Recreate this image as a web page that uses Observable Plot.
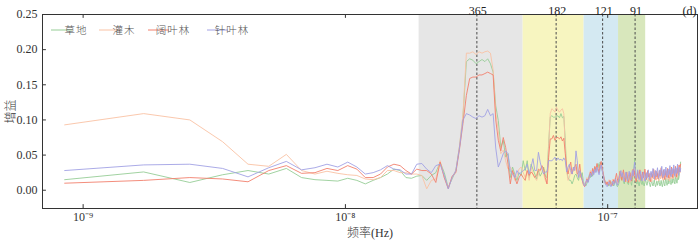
<!DOCTYPE html>
<html><head><meta charset="utf-8">
<script src="https://cdn.jsdelivr.net/npm/d3@7"></script>
<script src="https://cdn.jsdelivr.net/npm/@observablehq/plot@0.6"></script>
<style>
html,body{margin:0;padding:0;background:#fff;}
#chart{width:700px;height:242px;overflow:hidden;}
#chart svg, #chart svg text{font-family:"Liberation Serif","Noto Sans CJK SC",serif !important;}
#chart svg [aria-label="x-axis label"] text, #chart svg [aria-label="y-axis label"] text, #chart svg .cjk{font-weight:300;}
</style></head><body><div id="chart"></div>
<script>
// ---- data ----
const seriesNames = ["草地", "灌木", "阔叶林", "针叶林"];
// record: monthly series, 447 months -> harmonics k = 1..223
const recordMonths = 447;
const monthSeconds = 30.44 * 86400;

const grass = [0.015,0.026,0.011,0.022,0.028,0.023,0.031,0.018,0.015,0.014,0.013,0.017,
0.014,0.009,0.014,0.018,0.023,0.030,0.028,0.018,0.017,0.020,
0.021,0.014,0.021,0.025,0.040,0.025,0.004,0.016,0.028,
0.062,0.105,0.183,0.187,0.185,0.180,0.183,0.186,0.183,0.187,0.180,0.168,
0.120,0.099,0.061,0.071,0.047,0.052,0.018,0.033,0.023,0.014,0.025,0.021,0.042,
0.028,0.042,0.018,0.037,0.030,0.023,0.016,0.028,0.020,0.025,0.033,0.020,0.018,0.066,
0.104,0.106,0.104,0.104,0.105,0.106,0.103,0.109,0.103,0.105,
0.071,0.028,0.018,0.014,0.014,0.009,0.014,0.021,0.023,0.018,0.014,0.023,0.018,0.025,
0.012,0.008,0.006,0.010,0.015,0.022,0.018,0.025,0.020,0.028,0.033,0.026,0.030,0.038,0.032,0.040,
0.035,0.028,0.022,0.016,0.012,0.009,0.011,0.007,0.006,0.010,0.008,0.012,0.009,0.006,0.010,0.014,0.008,0.005,0.007,0.011,
0.018,0.024,0.015,0.020,0.012,0.009,0.016,0.022,0.014,0.010,0.008,0.013,0.019,0.011,0.007,0.015,0.022,0.030,0.044,0.020,
0.012,0.009,0.014,0.010,0.006,0.012,0.018,0.010,0.008,0.013,
0.009,0.006,0.011,0.016,0.010,0.007,0.012,0.018,0.012,0.008,0.005,0.010,0.014,0.009,0.006,0.011,0.015,0.008,0.005,0.009,
0.013,0.007,0.010,0.016,0.011,0.006,0.009,0.014,0.008,0.005,
0.010,0.015,0.009,0.006,0.012,0.017,0.010,0.007,0.011,0.016,0.009,0.013,0.019,0.011,0.008,0.012,0.017,0.010,0.014,0.020,
0.012,0.009,0.015,0.021,0.013,0.010,0.016,0.022,0.015,0.019,0.027,0.033,0.040];

const shrub = [0.093,0.109,0.100,0.069,0.037,0.034,0.051,0.028,0.023,0.027,0.024,0.022,
0.021,0.016,0.015,0.018,0.028,0.028,0.025,0.025,0.023,0.023,
0.021,0.002,0.014,0.016,0.042,0.018,0.004,0.018,0.028,
0.063,0.108,0.195,0.195,0.197,0.193,0.197,0.195,0.197,0.198,0.195,0.171,
0.110,0.085,0.052,0.057,0.042,0.030,0.033,0.028,0.014,0.021,0.030,0.033,0.025,
0.018,0.028,0.014,0.033,0.023,0.018,0.014,0.023,0.028,0.033,0.023,0.014,0.009,0.061,
0.109,0.116,0.114,0.111,0.118,0.114,0.111,0.114,0.116,0.109,
0.061,0.028,0.014,0.018,0.028,0.023,0.033,0.028,0.033,0.023,0.018,0.025,0.020,0.015,
0.010,0.007,0.012,0.018,0.013,0.020,0.028,0.022,0.030,0.025,0.032,0.027,0.035,0.029,0.024,0.033,
0.038,0.030,0.020,0.013,0.009,0.012,0.008,0.011,0.015,0.010,0.007,0.011,0.016,0.010,0.013,0.019,0.012,0.008,0.014,0.020,
0.016,0.022,0.027,0.018,0.014,0.020,0.025,0.017,0.012,0.018,0.024,0.016,0.011,0.017,0.022,0.028,0.019,0.024,0.032,0.018,
0.013,0.019,0.025,0.016,0.012,0.018,0.023,0.015,0.020,0.026,
0.017,0.013,0.019,0.024,0.016,0.021,0.027,0.018,0.013,0.019,0.025,0.017,0.012,0.018,0.023,0.016,0.021,0.028,0.019,0.014,
0.020,0.026,0.017,0.013,0.018,0.024,0.016,0.021,0.027,0.019,
0.014,0.020,0.025,0.017,0.022,0.029,0.020,0.015,0.021,0.027,0.018,0.013,0.019,0.024,0.016,0.022,0.029,0.021,0.016,0.022,
0.028,0.019,0.024,0.031,0.022,0.017,0.023,0.030,0.021,0.026,0.034,0.025,0.030];

const broadleaf = [0.010,0.014,0.018,0.016,0.012,0.028,0.035,0.024,0.025,0.031,0.028,0.035,
0.030,0.018,0.018,0.023,0.033,0.037,0.035,0.028,0.023,0.030,
0.028,0.028,0.023,0.011,0.040,0.018,0.002,0.020,0.025,
0.058,0.095,0.135,0.159,0.161,0.161,0.164,0.164,0.166,0.168,0.166,0.164,
0.100,0.071,0.056,0.075,0.061,0.037,0.009,0.028,0.018,0.009,0.018,0.023,0.018,
0.014,0.028,0.021,0.026,0.023,0.018,0.021,0.030,0.028,0.035,0.030,0.018,0.009,0.047,
0.073,0.073,0.078,0.071,0.075,0.075,0.073,0.076,0.070,0.074,
0.052,0.033,0.023,0.033,0.040,0.023,0.030,0.033,0.037,0.023,0.025,0.037,0.020,0.014,
0.008,0.005,0.010,0.016,0.012,0.019,0.026,0.020,0.031,0.024,0.034,0.028,0.038,0.031,0.025,0.036,
0.041,0.033,0.024,0.017,0.012,0.008,0.012,0.007,0.010,0.014,0.009,0.006,0.011,0.015,0.010,0.018,0.024,0.016,0.011,0.019,
0.027,0.020,0.014,0.021,0.029,0.018,0.012,0.019,0.026,0.016,0.011,0.018,0.025,0.019,0.013,0.022,0.030,0.021,0.028,0.018,
0.012,0.020,0.027,0.017,0.022,0.029,0.019,0.014,0.021,0.026,
0.018,0.023,0.030,0.020,0.015,0.022,0.028,0.019,0.024,0.017,0.012,0.019,0.025,0.018,0.023,0.030,0.021,0.015,0.022,0.027,
0.019,0.024,0.016,0.021,0.028,0.020,0.025,0.032,0.022,0.017,
0.023,0.029,0.020,0.015,0.021,0.027,0.019,0.024,0.031,0.022,0.017,0.023,0.029,0.021,0.026,0.033,0.023,0.018,0.024,0.030,
0.022,0.027,0.034,0.025,0.019,0.026,0.032,0.024,0.029,0.036,0.026,0.031,0.037];

const needle = [0.028,0.036,0.037,0.031,0.019,0.032,0.041,0.029,0.032,0.037,0.033,0.040,
0.033,0.023,0.025,0.029,0.035,0.030,0.029,0.023,0.023,0.037,
0.038,0.030,0.025,0.035,0.037,0.021,0.002,0.018,0.028,
0.060,0.100,0.109,0.107,0.104,0.102,0.106,0.104,0.106,0.115,0.106,0.109,
0.060,0.033,0.042,0.052,0.056,0.052,0.028,0.023,0.018,0.028,0.023,0.025,0.028,
0.030,0.037,0.023,0.033,0.045,0.028,0.028,0.054,0.040,0.030,0.023,0.026,0.026,0.042,
0.042,0.042,0.044,0.047,0.042,0.046,0.043,0.044,0.042,0.046,
0.042,0.026,0.033,0.037,0.028,0.023,0.033,0.028,0.056,0.042,0.018,0.028,0.023,0.016,
0.009,0.006,0.011,0.015,0.011,0.018,0.024,0.019,0.027,0.022,0.030,0.025,0.033,0.027,0.022,0.030,
0.036,0.029,0.021,0.014,0.010,0.007,0.005,0.009,0.012,0.008,0.005,0.009,0.013,0.008,0.011,0.016,0.010,0.007,0.012,0.017,
0.022,0.028,0.019,0.025,0.017,0.012,0.019,0.026,0.018,0.013,0.020,0.027,0.019,0.014,0.021,0.028,0.020,0.030,0.040,0.024,
0.017,0.022,0.029,0.020,0.015,0.021,0.027,0.019,0.013,0.020,
0.026,0.018,0.013,0.019,0.025,0.017,0.022,0.029,0.020,0.015,0.021,0.027,0.019,0.024,0.031,0.022,0.016,0.022,0.028,0.020,
0.025,0.032,0.023,0.017,0.023,0.029,0.021,0.026,0.034,0.024,
0.018,0.024,0.030,0.021,0.026,0.033,0.023,0.018,0.024,0.030,0.022,0.027,0.035,0.025,0.019,0.025,0.031,0.023,0.028,0.036,
0.026,0.020,0.026,0.032,0.024,0.029,0.037,0.027,0.021,0.027,0.033,0.026,0.031];

const periodsDays = [365, 182, 121, 91];
const bandEdges = [1.91e-8, 4.76e-8, 8.13e-8, 1.10e-7, 1.396e-7];
const xTickValues = [1e-9, 1e-8, 1e-7];
const yTickValues = [0, 0.05, 0.10, 0.15, 0.20, 0.25];

// ---- styles ----
const seriesColors = ["#96cd96", "#f9c2a4", "#f2806d", "#a2a2e4"];
const bandColors = ["#e6e6e6", "#f7f5c0", "#d4e9f2", "#d8e7bc"];
const xDomain = [7.0e-10, 2.2e-7];
const yDomain = [-0.026, 0.25];

const allSeries = [grass, shrub, broadleaf, needle];
const rows = allSeries.map((vals, s) => vals.map((g, i) => ({
  freq: (i + 1) / (recordMonths * monthSeconds), gain: g, type: seriesNames[s]
})));

const supMap = {"-": "⁻", "0": "⁰", "1": "¹", "2": "²", "3": "³", "4": "⁴", "5": "⁵", "6": "⁶", "7": "⁷", "8": "⁸", "9": "⁹"};
const sup = d => "10" + String(Math.round(Math.log10(d))).split("").map(c => supMap[c]).join("");

const font = "'Liberation Serif', 'Noto Sans CJK SC', serif";
const tickLenY = 0.0055;

const marks = [];
bandColors.forEach((c, i) => {
  marks.push(Plot.rect([i], {x1: j => bandEdges[j], x2: j => bandEdges[j + 1], y1: yDomain[0], y2: yDomain[1], fill: c}));
});
marks.push(Plot.ruleX(periodsDays, {x: d => 1 / (d * 86400), stroke: "#4a4a4a", strokeWidth: 1, strokeDasharray: "2.5,2"}));
rows.forEach((r, s) => {
  marks.push(Plot.line(r, {x: "freq", y: "gain", stroke: seriesColors[s], strokeWidth: 0.9}));
});
marks.push(
  Plot.ruleX(xTickValues, {x: d => d, y1: yDomain[0], y2: yDomain[0] + tickLenY, stroke: "#333"}),
  Plot.ruleX(xTickValues, {x: d => d, y1: yDomain[1] - tickLenY, y2: yDomain[1], stroke: "#333"}),
  Plot.ruleY(yTickValues, {y: d => d, x1: xDomain[0], x2: xDomain[0] * 1.035, stroke: "#333"}),
  Plot.frame({stroke: "#333", strokeWidth: 1}),
  Plot.axisX({ticks: xTickValues, tickFormat: sup, tickSize: 0, tickPadding: 4, fontSize: 12,
    label: "频率(Hz)", labelAnchor: "center", labelOffset: 28, labelArrow: "none"}),
  Plot.axisY({ticks: yTickValues, tickFormat: d3.format(".2f"), tickSize: 0, tickPadding: 5, fontSize: 12,
    label: "增益", labelAnchor: "center", labelOffset: 36, labelArrow: "none"}),
  Plot.text(periodsDays, {x: d => 1 / (d * 86400), text: d => String(d), frameAnchor: "top", dy: -8, dx: 1, fontSize: 12, fill: "#222"}),
  Plot.text(["(d)"], {text: d => d, frameAnchor: "top-right", textAnchor: "end", dy: -8, dx: -1, fontSize: 12, fill: "#222"})
);

const plot = Plot.plot({
  width: 700, height: 242,
  marginLeft: 42, marginRight: 3, marginTop: 14, marginBottom: 34,
  style: {fontFamily: font, fontSize: "12px", color: "#333", background: "#fff"},
  x: {type: "log", domain: xDomain},
  y: {domain: yDomain},
  marks
});
document.getElementById("chart").appendChild(plot);

// legend inside the plot, top-left
const svg = d3.select(plot);
const lg = svg.append("g").attr("font-size", 10.5).attr("fill", "#555");
const legendX = [51, 99, 148, 207];
seriesNames.forEach((name, i) => {
  lg.append("line").attr("x1", legendX[i]).attr("x2", legendX[i] + 21).attr("y1", 30).attr("y2", 30)
    .attr("stroke", seriesColors[i]).attr("stroke-width", 1);
  lg.append("text").attr("class", "cjk").attr("x", legendX[i] + 25).attr("y", 30).attr("dy", "0.35em")
    .attr("letter-spacing", 1).text(name);
});
</script></body></html>
